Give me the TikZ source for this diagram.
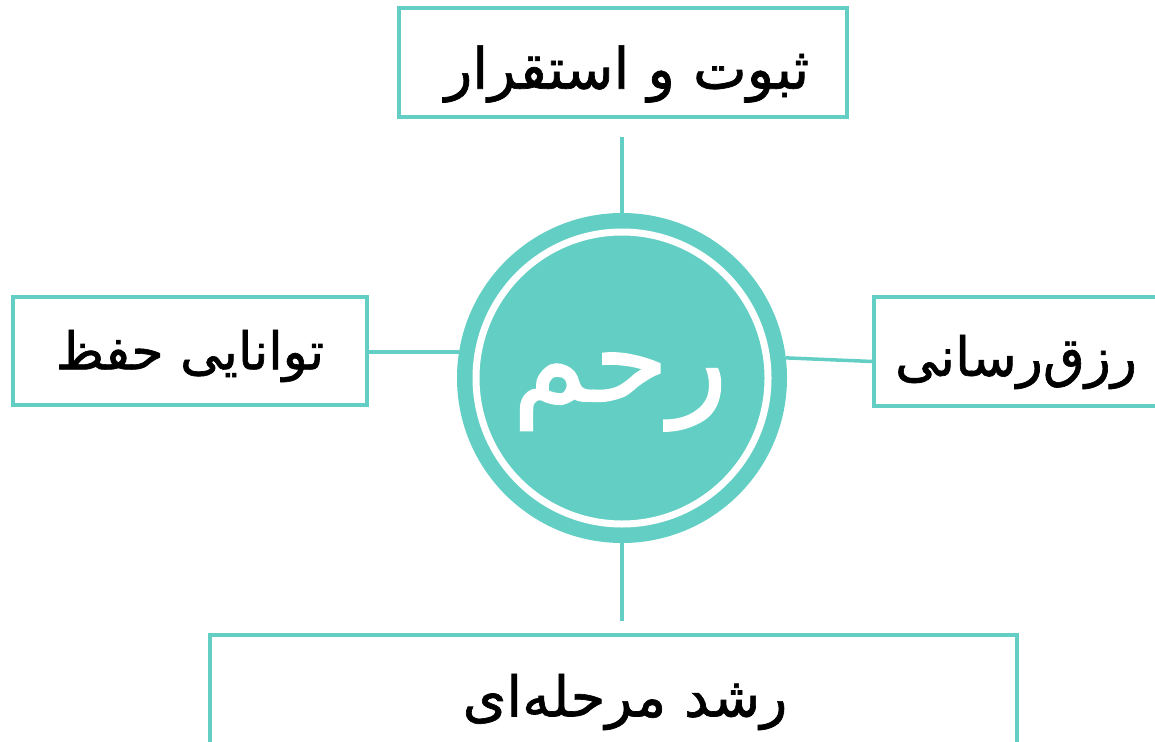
\documentclass[tikz,border=0pt]{standalone}
\usepackage{fontspec}
\newfontfamily\arabicfont[Script=Arabic,FakeBold=1.2]{DejaVu Sans}
\TeXXeTstate=1
\definecolor{mint}{RGB}{99,207,196}

\begin{document}
\begin{tikzpicture}[x=1pt,y=-1pt,
  box/.style={draw=mint, line width=3.5pt, inner sep=0pt},
  link/.style={draw=mint, line width=3.5pt}]
\clip (0,0) rectangle (1155,741);

\node[box, minimum width=448, minimum height=109] (sabat) at (623,62.5) {};
\node[font=\arabicfont\fontsize{57}{68}\selectfont] (sabattext) at (627,74) {\beginR ثبوت و استقرار\endR};
\node[box, minimum width=354, minimum height=108] (hefz) at (190,351) {};
\node[font=\arabicfont\fontsize{52}{62}\selectfont] (hefztext) at (190,356) {\beginR توانایی حفظ\endR};
\node[box, minimum width=286, minimum height=109] (rozq) at (1017,351.5) {};
\node[font=\arabicfont\fontsize{54}{64}\selectfont] (rozqtext) at (1016,362) {\beginR رزق‌رسانی\endR};
\node[box, minimum width=807, minimum height=120] (roshd) at (613.5,695) {};
\node[font=\arabicfont\fontsize{56}{66}\selectfont] (roshdtext) at (625,702) {\beginR رشد مرحله‌ای\endR};

% center
\node[circle, fill=mint, minimum size=330, inner sep=0pt] (rahem) at (622,378) {};
\draw[white, line width=7pt] (rahem.center) circle[radius=146];
\node[text=white, font=\arabicfont\fontsize{122}{140}\selectfont] (rahemtext) at (620,392) {\beginR رحم\endR};

\draw[link] ([yshift=-18pt]sabat.south -| rahem.north) -- (rahem.north);
\draw[link] (hefz.east |- rahem.171) -- (rahem.171);
\draw[link] (rahem.7) -- ([yshift=-10pt]rozq.west);
\draw[link, shorten >=12pt] (rahem.south) -- (rahem.south |- roshd.north);
\end{tikzpicture}
\end{document}
